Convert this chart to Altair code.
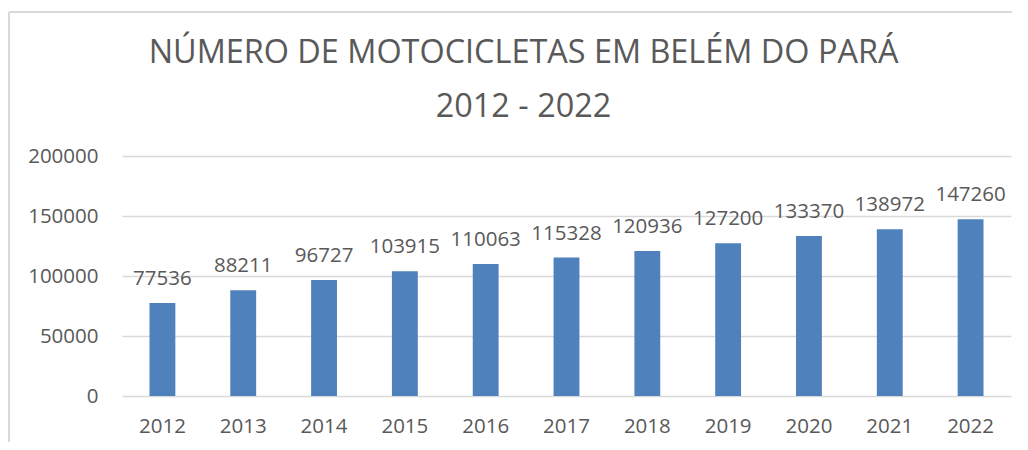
import altair as alt
import pandas as pd

years = ["2012", "2013", "2014", "2015", "2016", "2017", "2018", "2019", "2020", "2021", "2022"]
values = [77536, 88211, 96727, 103915, 110063, 115328, 120936, 127200, 133370, 138972, 147260]
y_ticks = [0, 50000, 100000, 150000, 200000]
title_lines = ["NÚMERO DE MOTOCICLETAS EM BELÉM DO PARÁ", "2012 - 2022"]

df = pd.DataFrame({"ano": years, "valor": values})

FONT = "Open Sans"
TEXT = "#595959"
GRID = "#D9D9D9"
FS = 20.5

x_enc = alt.X("ano:N", sort=years, title=None,
              scale=alt.Scale(paddingInner=0.68, paddingOuter=0.34),
              axis=alt.Axis(labelAngle=0, labelFont=FONT, labelFontSize=FS,
                            labelColor=TEXT, labelPadding=20, ticks=False,
                            domain=False, grid=False))
y_enc = alt.Y("valor:Q", title=None,
              scale=alt.Scale(domain=[0, 200000], nice=False),
              axis=alt.Axis(values=y_ticks, labelFont=FONT, labelFontSize=FS,
                            labelColor=TEXT, labelPadding=24, ticks=False,
                            domain=False, grid=True, gridColor=GRID,
                            gridWidth=1.5, format="d"))

bars = alt.Chart(df).mark_bar(color="#4F81BD").encode(x=x_enc, y=y_enc)

labels = alt.Chart(df).mark_text(font=FONT, fontSize=FS, color=TEXT,
                                 baseline="alphabetic", dy=-18).encode(
    x=alt.X("ano:N", sort=years),
    y=alt.Y("valor:Q"),
    text=alt.Text("valor:Q", format="d"),
)

border_top = alt.Chart(df).mark_rule(color=GRID, strokeWidth=1.5).encode(
    x=alt.value(-113), x2=alt.value(900), y=alt.value(-144))
border_left = alt.Chart(df).mark_rule(color=GRID, strokeWidth=1.5).encode(
    x=alt.value(-113), y=alt.value(-144), y2=alt.value(300))

chart = alt.layer(bars, labels, border_top, border_left).properties(
    width=889,
    height=240,
    title=alt.TitleParams(text=title_lines, font=FONT, fontSize=32.4,
                          fontWeight="normal", color=TEXT, lineHeight=54,
                          anchor="middle", dx=-43, offset=0, dy=138,
                          baseline="alphabetic"),
    autosize=alt.AutoSizeParams(type="none"),
    padding={"left": 114, "top": 148, "right": 1, "bottom": 46},
).configure_view(stroke=None)

chart.save("out.html", embed_options={"renderer": "svg", "actions": False})
